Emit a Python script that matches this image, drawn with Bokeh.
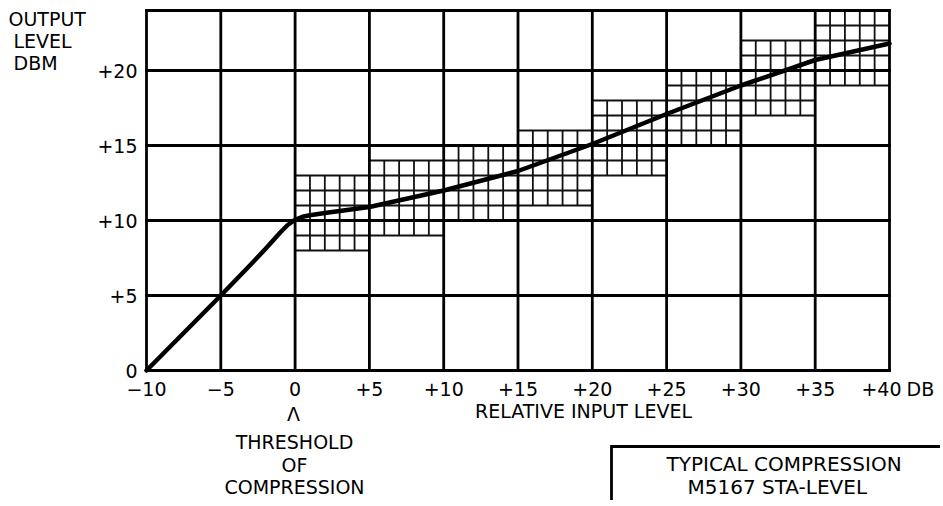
from bokeh.plotting import figure
from bokeh.models import Range1d
from bokeh.core.properties import value
from bokeh.embed import file_html
from bokeh.resources import INLINE

# ---------------- data ----------------
x_ticks = [-10, -5, 0, 5, 10, 15, 20, 25, 30, 35, 40]
x_tick_labels = ["\u221210", "\u22125", "0", "+5", "+10", "+15", "+20", "+25", "+30", "+35", "+40"]
y_ticks = [0, 5, 10, 15, 20]
y_tick_labels = ["0", "+5", "+10", "+15", "+20"]
y_top = 24

# compression curve (relative input level dB -> output level dBm)
curve_x = [-10, -5, -3, -2, -1, -0.5, 0, 0.5, 1, 2, 5, 10, 15, 20, 25, 30, 35, 40]
curve_y = [0, 5, 7.05, 8.1, 9.2, 9.7, 10.05, 10.25, 10.35, 10.5, 10.9, 12.0, 13.3, 15.1, 17.1, 19.0, 20.7, 21.8]

# tolerance windows (5 dB wide input bands, 5 dB tall output windows, 1 dB ruling)
band_start = [0, 5, 10, 15, 20, 25, 30, 35]
band_low = [8, 9, 10, 11, 13, 15, 17, 19]
band_size = 5

FONT = "DejaVu Sans"
W, H = 940, 500

# pixel layout -> data coordinates (plot area: x -10..40 at px 146..889, y 0..24 at px 370..10)
def fx(px):
    return -10 + (px - 146) / 14.86

def fy(py):
    return (370 - py) / 15.0

p = figure(width=W, height=H, x_range=Range1d(fx(0), fx(W)), y_range=Range1d(fy(H), fy(0)),
           output_backend="svg", toolbar_location=None,
           x_axis_location=None, y_axis_location=None, min_border=0)
p.outline_line_color = None
p.grid.visible = False
p.background_fill_color = "white"
p.border_fill_color = "white"

xmin, xmax = x_ticks[0], x_ticks[-1]
ymin = y_ticks[0]

# fine 1 dB ruling inside each tolerance window
fx0, fx1, fy0, fy1 = [], [], [], []
for xs, lo in zip(band_start, band_low):
    for k in range(1, band_size):
        fx0.append(xs + k); fx1.append(xs + k); fy0.append(lo); fy1.append(lo + band_size)
    for k in range(0, band_size + 1):
        fx0.append(xs); fx1.append(xs + band_size); fy0.append(lo + k); fy1.append(lo + k)
p.segment(x0=fx0, y0=fy0, x1=fx1, y1=fy1, line_color="#111111", line_width=1.8)

# major grid and border
gy = y_ticks + [y_top]
p.segment(x0=x_ticks, y0=[ymin] * len(x_ticks), x1=x_ticks, y1=[y_top] * len(x_ticks),
          line_color="black", line_width=2.8, line_cap="square")
p.segment(x0=[xmin] * len(gy), y0=gy, x1=[xmax] * len(gy), y1=gy,
          line_color="black", line_width=2.8, line_cap="square")

# curve
p.line(curve_x, curve_y, line_color="black", line_width=4.5, line_join="round", line_cap="round")

# tick labels (vertically centred on their cap height)
x_off = [0] * (len(x_ticks) - 1) + [-8]
p.text(x=x_ticks, y=[fy(388)] * len(x_ticks), text=x_tick_labels, x_offset=x_off,
       text_font=value(FONT), text_font_size=value("19px"), text_color="black",
       text_align="center", text_baseline="middle")
p.text(x=[fx(137)] * len(y_ticks), y=y_ticks, text=y_tick_labels,
       text_font=value(FONT), text_font_size=value("19px"), text_color="black",
       text_align="right", text_baseline="middle")

def lab(text, px, py, size="19px", align="left"):
    p.text(x=[fx(px)], y=[fy(py)], text=[text], text_font=value(FONT),
           text_font_size=value(size), text_color="black",
           text_align=align, text_baseline="middle")

lab("OUTPUT", 8, 18)
lab("LEVEL", 13, 40)
lab("DBM", 13, 62)
lab("DB", 906, 388)
lab("RELATIVE INPUT LEVEL", 583, 410, align="center")
lab("\u039b", 293, 413, align="center")
lab("THRESHOLD", 294, 441, align="center")
lab("OF", 294, 464, align="center")
lab("COMPRESSION", 294, 486, align="center")

# caption box in lower right
p.line(x=[fx(1000), fx(611), fx(611)], y=[fy(446), fy(446), fy(560)],
       line_color="black", line_width=2.8, line_join="miter")
lab("TYPICAL COMPRESSION", 666, 463, size="20px")
lab("M5167 STA-LEVEL", 687, 486, size="20px")

open("out.html", "w").write(file_html(p, INLINE))
